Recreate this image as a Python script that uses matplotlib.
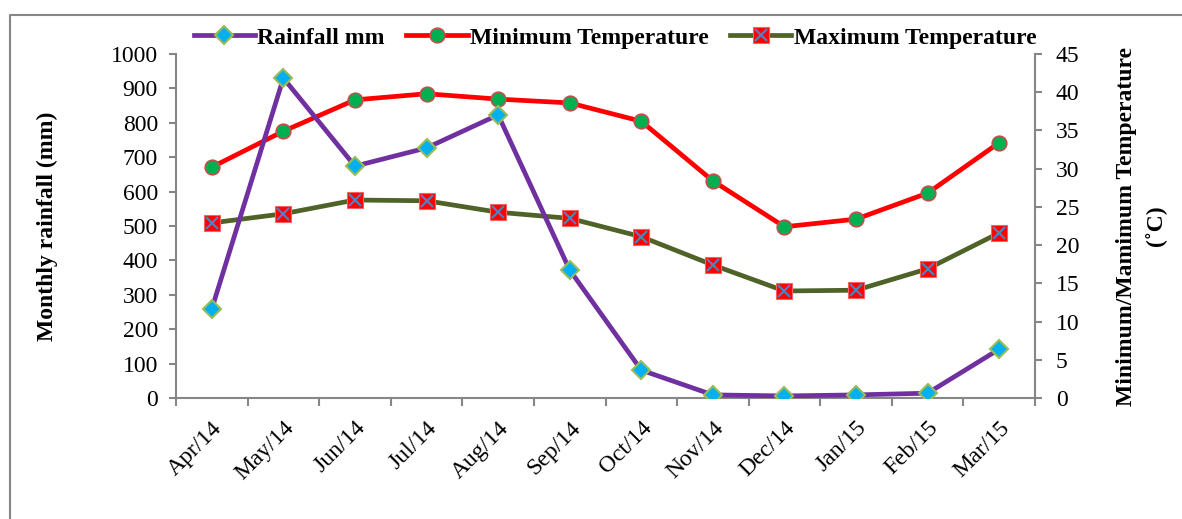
import numpy as np
import matplotlib.pyplot as plt
from matplotlib.lines import Line2D
from matplotlib.legend_handler import HandlerTuple

months = ['Apr/14', 'May/14', 'Jun/14', 'Jul/14', 'Aug/14', 'Sep/14',
          'Oct/14', 'Nov/14', 'Dec/14', 'Jan/15', 'Feb/15', 'Mar/15']
rainfall = [259, 930, 674, 727, 823, 372, 81, 9, 6, 9, 14, 142]
min_temp = [30.2, 34.9, 39.0, 39.8, 39.1, 38.6, 36.2, 28.4, 22.4, 23.4, 26.8, 33.4]
max_temp = [22.9, 24.1, 25.9, 25.8, 24.3, 23.5, 21.1, 17.4, 14.0, 14.1, 16.9, 21.6]

plt.rcParams['font.family'] = ['Liberation Serif', 'DejaVu Serif']
grey = '#868686'

fig = plt.figure(figsize=(11.82, 5.19), dpi=100)
ax = fig.add_axes([176 / 1182, 1 - 398 / 519, (1035 - 176) / 1182, (398 - 54) / 519])
ax2 = ax.twinx()

x = np.arange(len(months))

# rainfall on left axis
rain_line, = ax.plot(x, rainfall, color='#7030A0', lw=3.4, marker='D', ms=9,
                     mfc='#00B0F0', mec='#9BBB59', mew=1.5, zorder=3)

# temperatures on right axis
min_line, = ax2.plot(x, min_temp, color='#FF0000', lw=3.4, marker='o', ms=10.5,
                     mfc='#00B050', mec='#C0504D', mew=1.2)
max_line, = ax2.plot(x, max_temp, color='#4F6228', lw=3.4, marker='s', ms=11,
                     mfc='#FF0000', mec='#FF6060', mew=0.8)
max_x, = ax2.plot(x, max_temp, ls='none', marker='x', ms=8.5, mec='#4F81BD', mew=1.6)

ax.set_xlim(-0.5, len(months) - 0.5)
ax.set_ylim(0, 1000)
ax.set_yticks(np.arange(0, 1001, 100))
ax2.set_ylim(0, 45)
ax2.set_yticks(np.arange(0, 46, 5))

ax.set_xticks(np.arange(-0.5, len(months), 1))
ax.set_xticklabels([])
ax.set_xticks(x, minor=True)
ax.set_xticklabels(months, minor=True, rotation=45, ha='right',
                   rotation_mode='anchor', fontsize=17)
ax.tick_params(axis='x', which='minor', length=0, pad=14)
ax.tick_params(axis='x', which='major', length=6, width=1.5, color=grey, direction='out')
ax.tick_params(axis='y', length=5, width=1.5, color=grey, labelsize=17, pad=8)
ax2.tick_params(axis='y', length=5, width=1.5, color=grey, labelsize=17, pad=10)

for a in (ax, ax2):
    a.spines['top'].set_visible(False)
    for s in ('left', 'right', 'bottom'):
        a.spines[s].set_color(grey)
        a.spines[s].set_linewidth(1.5)
ax.spines['right'].set_visible(False)
ax2.spines['left'].set_visible(False)
ax2.spines['bottom'].set_visible(False)

ax.set_ylabel('Monthly rainfall (mm)', fontsize=17, fontweight='bold', labelpad=38)
ax2.set_ylabel('Minimum/Mamimum Temperature\n(˚C)', fontsize=17, fontweight='bold',
               rotation=90, labelpad=26, linespacing=1.5)

ax.set_zorder(ax2.get_zorder() + 1)
ax.patch.set_visible(False)

fig.legend([rain_line, min_line, (max_line, max_x)],
           ['Rainfall mm', 'Minimum Temperature', 'Maximum Temperature'],
           handler_map={tuple: HandlerTuple(ndivide=1, pad=0)},
           loc='center', bbox_to_anchor=(615 / 1182, 1 - 38 / 519), ncol=3,
           frameon=False, prop={'weight': 'bold', 'size': 17},
           handlelength=2.6, handletextpad=0.1, columnspacing=0.9)

# outer frame (top and left edges visible)
fig.add_artist(Line2D([10 / 1182, 10 / 1182, 1], [0, 1 - 15 / 519, 1 - 15 / 519],
                      transform=fig.transFigure, color=grey, lw=1.5))

fig.savefig('out.png', dpi=100)
